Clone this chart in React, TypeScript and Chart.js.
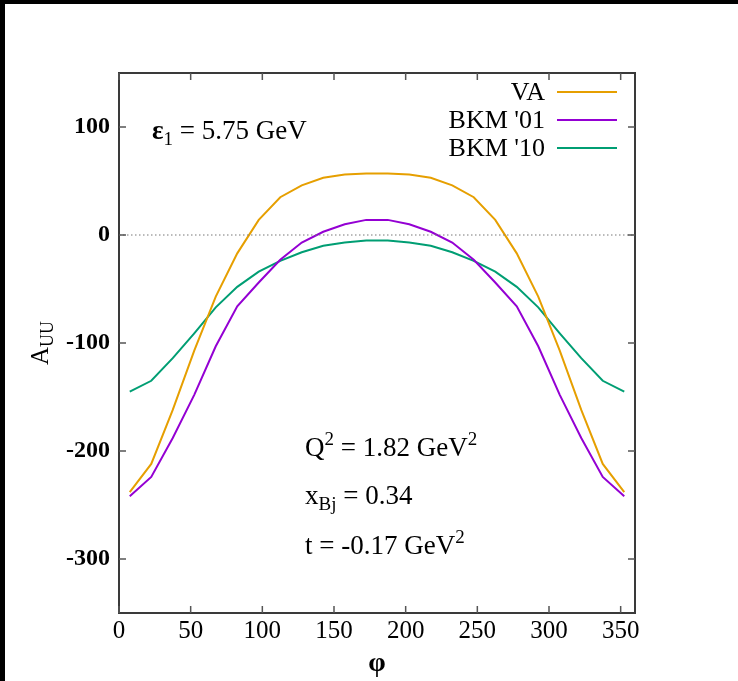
import React, { useEffect, useRef } from "react";
import { Chart, registerables } from "chart.js";

Chart.register(...registerables);

const phi = [7.5, 22.5, 37.5, 52.5, 67.5, 82.5, 97.5, 112.5, 127.5, 142.5, 157.5, 172.5, 187.5, 202.5, 217.5, 232.5, 247.5, 262.5, 277.5, 292.5, 307.5, 322.5, 337.5, 352.5];
const va = [-238, -212, -162, -107, -57, -17, 14, 35, 46, 53, 56, 57, 57, 56, 53, 46, 35, 14, -17, -57, -107, -162, -212, -238];
const bkm01 = [-242, -224, -188, -148, -103, -66, -44, -23, -7, 3, 10, 14, 14, 10, 3, -7, -23, -44, -66, -103, -148, -188, -224, -242];
const bkm10 = [-145, -135, -114, -91, -67, -48, -34, -24, -16, -10, -7, -5, -5, -7, -10, -16, -24, -34, -48, -67, -91, -114, -135, -145];
const seriesLabels = ["VA", "BKM '01", "BKM '10"];
const seriesColors = ["#E69F00", "#9400D3", "#009E73"];
const xTicks = [0, 50, 100, 150, 200, 250, 300, 350];
const yTicks = [-300, -200, -100, 0, 100];

const SERIF = "'Liberation Serif', 'DejaVu Serif', serif";

type Seg = { t: string; size: number; bold?: boolean; dy?: number };

function drawRich(ctx: CanvasRenderingContext2D, x: number, y: number, segs: Seg[]) {
  let cx = x;
  for (const s of segs) {
    ctx.font = `${s.bold ? "bold " : ""}${s.size}px ${SERIF}`;
    ctx.fillText(s.t, cx, y + (s.dy || 0));
    cx += ctx.measureText(s.t).width;
  }
}

const framePlugin = {
  id: "frame",
  afterDatasetsDraw(chart: any) {
    const { ctx, chartArea: a, scales } = chart;
    const xs = scales.x;
    const ys = scales.y;
    ctx.save();
    // zero dotted line
    ctx.strokeStyle = "#777";
    ctx.lineWidth = 1;
    ctx.setLineDash([1.5, 2.5]);
    const y0 = ys.getPixelForValue(0);
    ctx.beginPath();
    ctx.moveTo(a.left, y0);
    ctx.lineTo(a.right, y0);
    ctx.stroke();
    ctx.setLineDash([]);
    // border
    ctx.strokeStyle = "#3a3a3a";
    ctx.lineWidth = 2;
    ctx.strokeRect(a.left, a.top, a.right - a.left, a.bottom - a.top);
    // inward ticks
    ctx.lineWidth = 1.5;
    ctx.strokeStyle = "#555";
    ctx.beginPath();
    for (const v of xTicks) {
      const px = xs.getPixelForValue(v);
      ctx.moveTo(px, a.bottom);
      ctx.lineTo(px, a.bottom - 7);
      ctx.moveTo(px, a.top);
      ctx.lineTo(px, a.top + 7);
    }
    for (const v of yTicks) {
      const py = ys.getPixelForValue(v);
      ctx.moveTo(a.left, py);
      ctx.lineTo(a.left + 7, py);
      ctx.moveTo(a.right, py);
      ctx.lineTo(a.right - 7, py);
    }
    ctx.stroke();

    // legend
    ctx.fillStyle = "#000";
    ctx.textBaseline = "middle";
    ctx.font = `26px ${SERIF}`;
    const rows = [88, 116, 144];
    seriesLabels.forEach((lab, i) => {
      ctx.textAlign = "right";
      ctx.fillText(lab, 540, rows[i] + 1);
      ctx.strokeStyle = seriesColors[i];
      ctx.lineWidth = 2;
      ctx.beginPath();
      ctx.moveTo(552, rows[i]);
      ctx.lineTo(612, rows[i]);
      ctx.stroke();
    });

    // annotations
    ctx.textAlign = "left";
    ctx.textBaseline = "alphabetic";
    ctx.fillStyle = "#000";
    drawRich(ctx, 147, 135, [
      { t: "ε", size: 27, bold: true },
      { t: "1", size: 19, dy: 6 },
      { t: " = 5.75 GeV", size: 27 },
    ]);
    drawRich(ctx, 300, 452, [
      { t: "Q", size: 27 },
      { t: "2", size: 19, dy: -11 },
      { t: " = 1.82 GeV", size: 27 },
      { t: "2", size: 19, dy: -11 },
    ]);
    drawRich(ctx, 300, 500, [
      { t: "x", size: 27 },
      { t: "Bj", size: 19, dy: 6 },
      { t: " = 0.34", size: 27 },
    ]);
    drawRich(ctx, 300, 550, [
      { t: "t = -0.17 GeV", size: 27 },
      { t: "2", size: 19, dy: -11 },
    ]);

    // y title A_UU rotated
    ctx.translate(35, (a.top + a.bottom) / 2);
    ctx.rotate(-Math.PI / 2);
    ctx.font = `25px ${SERIF}`;
    const wA = ctx.measureText("A").width;
    ctx.font = `18px ${SERIF}`;
    const wU = ctx.measureText("UU").width;
    const total = wA + wU;
    ctx.textBaseline = "alphabetic";
    drawRich(ctx, -total / 2, 8, [
      { t: "A", size: 25 },
      { t: "UU", size: 18, dy: 5 },
    ]);
    ctx.restore();
  },
};

export default function App() {
  const ref = useRef<HTMLCanvasElement | null>(null);
  useEffect(() => {
    document.body.style.margin = "0";
    const canvas = ref.current!;
    const mk = (data: number[], i: number) => ({
      label: seriesLabels[i],
      data: phi.map((p, k) => ({ x: p, y: data[k] })),
      borderColor: seriesColors[i],
      backgroundColor: seriesColors[i],
      borderWidth: 2,
      pointRadius: 0,
      tension: 0,
      fill: false,
    });
    const chart = new Chart(canvas, {
      type: "line",
      data: { datasets: [mk(va, 0), mk(bkm01, 1), mk(bkm10, 2)] },
      options: {
        animation: false,
        responsive: false,
        devicePixelRatio: 1,
        layout: { padding: { top: 69, right: 103, left: 0, bottom: 0 } },
        plugins: { legend: { display: false }, tooltip: { enabled: false } },
        scales: {
          x: {
            type: "linear",
            min: 0,
            max: 360,
            afterBuildTicks: (s: any) => {
              s.ticks = xTicks.map((v) => ({ value: v }));
            },
            afterFit: (s: any) => {
              s.height = 68;
            },
            grid: { display: false, drawTicks: false },
            border: { display: false },
            ticks: {
              color: "#000",
              padding: 3,
              maxRotation: 0,
              autoSkip: false,
              font: { family: SERIF, size: 25 },
            },
            title: {
              display: true,
              text: "φ",
              color: "#000",
              font: { family: SERIF, size: 28, weight: "bold" },
              padding: { top: 0, bottom: 0 },
            },
          },
          y: {
            type: "linear",
            min: -350,
            max: 150,
            afterBuildTicks: (s: any) => {
              s.ticks = yTicks.map((v) => ({ value: v }));
            },
            afterFit: (s: any) => {
              s.width = 114;
            },
            grid: { display: false, drawTicks: false },
            border: { display: false },
            ticks: {
              color: "#000",
              padding: 9,
              autoSkip: false,
              font: { family: SERIF, size: 24, weight: "bold" },
            },
          },
        },
      },
      plugins: [framePlugin],
    } as any);
    return () => chart.destroy();
  }, []);
  return (
    <div style={{ position: "fixed", left: 0, top: 0, width: 738, height: 681, background: "#000" }}>
      <canvas
        ref={ref}
        width={733}
        height={677}
        style={{ position: "absolute", left: 5, top: 4, width: 733, height: 677, background: "#fff" }}
      />
    </div>
  );
}
